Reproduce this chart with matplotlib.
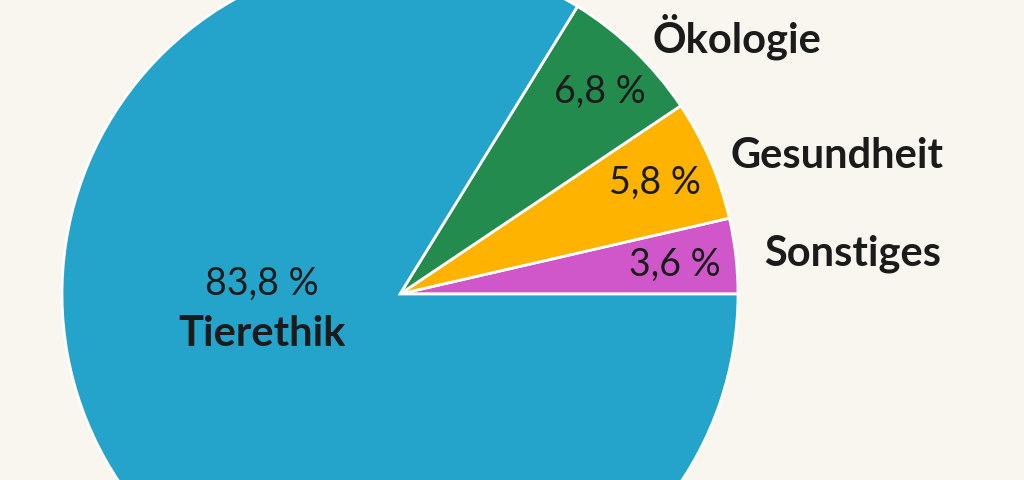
import matplotlib.pyplot as plt

# Anteile, gegen den Uhrzeigersinn ab 0°
labels = ['Sonstiges', 'Gesundheit', 'Ökologie', 'Tierethik']
values = [3.6, 5.8, 6.8, 83.8]
pct_text = ['3,6 %', '5,8 %', '6,8 %', '83,8 %']
colors = ['#CF57C9', '#FDB300', '#238B4E', '#24A3CB']

bg = '#F9F6F0'
txt = '#1b1b1b'
plt.rcParams['font.family'] = ['Lato', 'DejaVu Sans']

fig = plt.figure(figsize=(10.24, 4.8), dpi=100, facecolor=bg)
ax = fig.add_axes([0, 0, 1, 1])
ax.set_facecolor(bg)

cx, cy, r = 400, 186, 338
wedges, _ = ax.pie(values, colors=colors, startangle=0, counterclock=True,
                   radius=r, center=(cx, cy),
                   wedgeprops=dict(edgecolor='white', linewidth=2))
ax.set_xlim(0, 1024)
ax.set_ylim(0, 480)
ax.set_aspect('equal')
ax.axis('off')

# Prozentwerte in den kleinen Segmenten
pct_pos = [(675, 215), (655, 297), (600, 388)]
for (x, y), t in zip(pct_pos, pct_text[:3]):
    ax.text(x, y, t, ha='center', va='center', fontsize=27, color=txt)

# Namen rechts daneben
name_pos = [(764, 226), (731, 324), (652, 443)]
for (x, y), t in zip(name_pos, labels[:3]):
    ax.text(x, y, t, ha='left', va='center', fontsize=30, fontweight='bold', color=txt)

ax.text(262, 196, pct_text[3], ha='center', va='center', fontsize=27, color=txt)
ax.text(262, 146, labels[3], ha='center', va='center', fontsize=30, fontweight='bold', color=txt)

fig.savefig('out.png', dpi=100, facecolor=bg)
